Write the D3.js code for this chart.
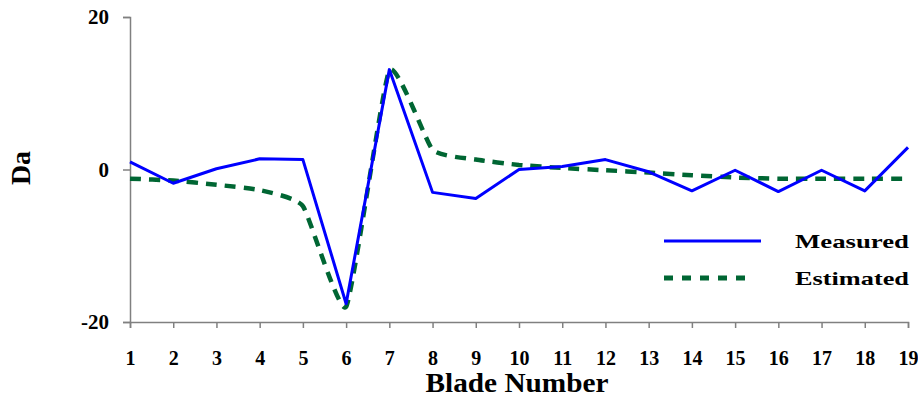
<!DOCTYPE html>
<html>
<head>
<meta charset="utf-8">
<script src="https://cdn.jsdelivr.net/npm/d3@7"></script>
<style>
  body { margin: 0; background: #fff; }
  text { font-family: "Liberation Serif", "Times New Roman", Times, serif; font-weight: bold; fill: #000; }
</style>
</head>
<body>
<div id="chart"></div>
<script>
const blades = d3.range(1, 20);
const measured = [1.0, -1.8, 0.1, 1.4, 1.3, -17.6, 13.1, -3.0, -3.8, 0.0, 0.4, 1.3, -0.3, -2.8, -0.1, -2.9, -0.1, -2.8, 2.9];
const estimated = [-1.2, -1.45, -2.0, -2.7, -4.8, -18.0, 13.0, 2.6, 1.3, 0.6, 0.2, -0.1, -0.4, -0.75, -1.05, -1.2, -1.2, -1.2, -1.2];
const yTicks = [-20, 0, 20];
const series = [
  { name: 'Measured', values: measured },
  { name: 'Estimated', values: estimated }
];

const W = 918, H = 398;
const margin = { left: 130, right: 10, top: 17, bottom: 76 };
const serif = '"Liberation Serif", "Times New Roman", Times, serif';

const svg = d3.select('#chart').append('svg')
  .attr('width', W)
  .attr('height', H);

const x = d3.scaleLinear().domain([1, 19]).range([margin.left, W - margin.right]);
const y = d3.scaleLinear().domain([-20, 20]).range([H - margin.bottom, margin.top]);

// axes
const xAxis = svg.append('g')
  .attr('transform', `translate(0, ${y(-20)})`)
  .call(d3.axisBottom(x).tickValues(blades).tickSize(6).tickPadding(23).tickFormat(d3.format('d')));
const yAxis = svg.append('g')
  .attr('transform', `translate(${x(1)}, 0)`)
  .call(d3.axisLeft(y).tickValues(yTicks).tickSize(7).tickPadding(14).tickFormat(d => String(d)));

[xAxis, yAxis].forEach(a => {
  a.attr('font-family', serif);
  a.select('.domain').attr('stroke', '#808080').attr('stroke-width', 1.5);
  a.selectAll('.tick line').attr('stroke', '#808080').attr('stroke-width', 1.5);
  a.selectAll('text').attr('font-weight', 'bold').attr('fill', '#000');
});
xAxis.selectAll('text').attr('font-size', 20);
yAxis.selectAll('text').attr('font-size', 21);

// lines
const line = d3.line().x((d, i) => x(blades[i])).y(d => y(d));
svg.append('path')
  .datum(estimated)
  .attr('fill', 'none')
  .attr('stroke', '#006633')
  .attr('stroke-width', 4.5)
  .attr('stroke-dasharray', '11,8')
  .attr('d', line.curve(d3.curveCardinal.tension(0.55)));
svg.append('path')
  .datum(measured)
  .attr('fill', 'none')
  .attr('stroke', '#0000ff')
  .attr('stroke-width', 3)
  .attr('stroke-linejoin', 'round')
  .attr('d', line.curve(d3.curveLinear));

// axis titles
svg.append('text')
  .attr('x', 517).attr('y', 392)
  .attr('text-anchor', 'middle')
  .attr('font-size', 28)
  .attr('textLength', 183).attr('lengthAdjust', 'spacingAndGlyphs')
  .text('Blade Number');
svg.append('text')
  .attr('transform', 'translate(30, 168) rotate(-90)')
  .attr('text-anchor', 'middle')
  .attr('font-size', 28)
  .text('Da');

// legend
const legend = svg.append('g');
const legendRows = [
  { name: series[0].name, y: 241, stroke: '#0000ff', width: 3, dash: null },
  { name: series[1].name, y: 278, stroke: '#006633', width: 5, dash: '9,9' }
];
legendRows.forEach(r => {
  legend.append('line')
    .attr('x1', 664).attr('x2', r.dash ? 754 : 761)
    .attr('y1', r.y).attr('y2', r.y)
    .attr('stroke', r.stroke)
    .attr('stroke-width', r.width)
    .attr('stroke-dasharray', r.dash);
  legend.append('text')
    .attr('x', 795).attr('y', r.y + 7)
    .attr('font-size', 19)
    .attr('textLength', 114).attr('lengthAdjust', 'spacingAndGlyphs')
    .text(r.name);
});
</script>
</body>
</html>
